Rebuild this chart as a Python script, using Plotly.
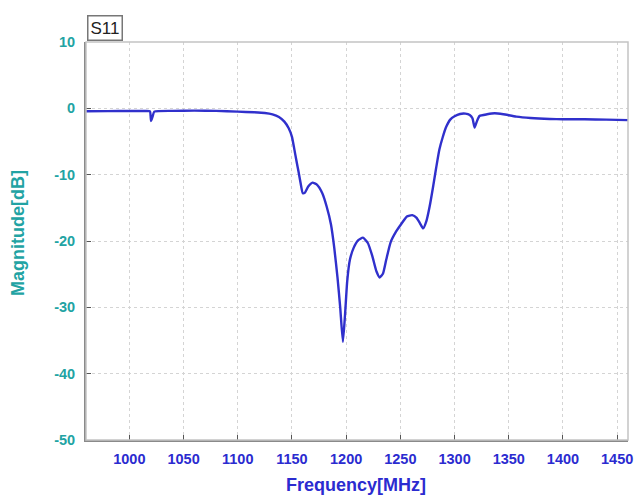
import plotly.graph_objects as go

freq_mhz = [960, 980, 1000, 1015, 1019, 1020, 1021.5, 1023, 1040, 1060, 1080, 1100,
            1115, 1125, 1132, 1138, 1143, 1147, 1150, 1152, 1154, 1156, 1158, 1160,
            1162, 1165, 1169, 1173, 1178, 1182, 1186, 1189, 1192, 1194.5, 1197, 1199,
            1201, 1203.5, 1207, 1211, 1215.5, 1220, 1224, 1228, 1231, 1234, 1237, 1241,
            1246, 1251, 1256, 1261, 1265, 1268, 1271, 1274, 1277, 1280, 1283, 1286,
            1289, 1292, 1296, 1300, 1305, 1310, 1314, 1316.5, 1318.5, 1320.5, 1323,
            1330, 1337, 1345, 1357, 1370, 1388, 1400, 1420, 1440, 1460]
s11_db = [-0.45, -0.42, -0.4, -0.4, -0.45, -1.9, -1.2, -0.5, -0.38, -0.35, -0.38, -0.5,
          -0.6, -0.7, -0.9, -1.3, -2.0, -3.0, -4.3, -6.0, -7.8, -9.5, -11.3, -12.8,
          -12.7, -11.8, -11.2, -11.5, -12.8, -14.8, -17.5, -21.0, -25.5, -30.0, -35.2, -31.0,
          -26.0, -22.8, -21.0, -19.9, -19.5, -20.3, -22.2, -24.6, -25.5, -24.9, -22.8, -20.2,
          -18.6, -17.4, -16.3, -16.1, -16.5, -17.3, -18.1, -17.0, -14.8, -12.0, -9.0, -6.2,
          -4.4, -2.9, -1.7, -1.2, -0.85, -0.8, -1.0, -1.5, -2.9, -2.0, -1.15,
          -0.9, -0.75, -0.9, -1.25, -1.45, -1.6, -1.65, -1.65, -1.7, -1.78]

x_ticks = [1000, 1050, 1100, 1150, 1200, 1250, 1300, 1350, 1400, 1450]
y_ticks = [10, 0, -10, -20, -30, -40, -50]

fig = go.Figure()
fig.add_trace(go.Scatter(
    x=freq_mhz, y=s11_db, mode="lines",
    line=dict(color="#3030cc", width=2.4, shape="spline", smoothing=0.5),
    showlegend=False, hoverinfo="skip"))

font_family = "Liberation Sans, Arial, sans-serif"
blue = "#2b2bd0"
teal = "#22a3a3"
fig.update_layout(
    width=635, height=496,
    margin=dict(l=86, r=7, t=42, b=56),
    paper_bgcolor="white", plot_bgcolor="white",
    font=dict(family=font_family),
    xaxis=dict(
        range=[960, 1460], tickvals=x_ticks, ticktext=[str(v) for v in x_ticks],
        tickfont=dict(size=14.5, color=blue, family=font_family, weight="bold"),
        ticklabelstandoff=5,
        showgrid=True, gridcolor="#d4d4d4", griddash="dot", gridwidth=1,
        ticks="inside", ticklen=5, tickcolor="#555555",
        showline=True, linecolor="#8a8a8a", linewidth=2,
        zeroline=False, automargin=False),
    yaxis=dict(
        range=[-50, 10], tickvals=y_ticks, ticktext=[str(v) for v in y_ticks],
        tickfont=dict(size=14.5, color=teal, family=font_family, weight="bold"),
        ticklabelstandoff=6,
        showgrid=True, gridcolor="#d4d4d4", griddash="dot", gridwidth=1,
        ticks="inside", ticklen=5, tickcolor="#555555",
        showline=True, linecolor="#8a8a8a", linewidth=2,
        zeroline=False, automargin=False),
    shapes=[dict(type="rect", xref="paper", yref="paper", x0=0, y0=0, x1=1, y1=1,
                 line=dict(color="#c4c4c4", width=1.5), layer="above")],
    annotations=[
        dict(text="S11", xref="paper", yref="paper", x=0.002, y=1.0,
             xanchor="left", yanchor="bottom", yshift=1, showarrow=False,
             font=dict(size=17, color="#222222", family=font_family),
             bordercolor="#777777", borderwidth=1.5, borderpad=2, bgcolor="white"),
        dict(text="Frequency[MHz]", xref="paper", yref="paper",
             x=0.498, y=-0.113, xanchor="center", yanchor="middle", showarrow=False,
             font=dict(size=18, color=blue, family=font_family, weight="bold")),
        dict(text="Magnitude[dB]", xref="paper", yref="paper",
             x=-0.1255, y=0.52, xanchor="center", yanchor="middle", showarrow=False,
             textangle=-90,
             font=dict(size=18, color=teal, family=font_family, weight="bold")),
    ],
)

fig.write_html("out.html", config={"displayModeBar": False},
               post_script="document.body.style.margin='0px';")
